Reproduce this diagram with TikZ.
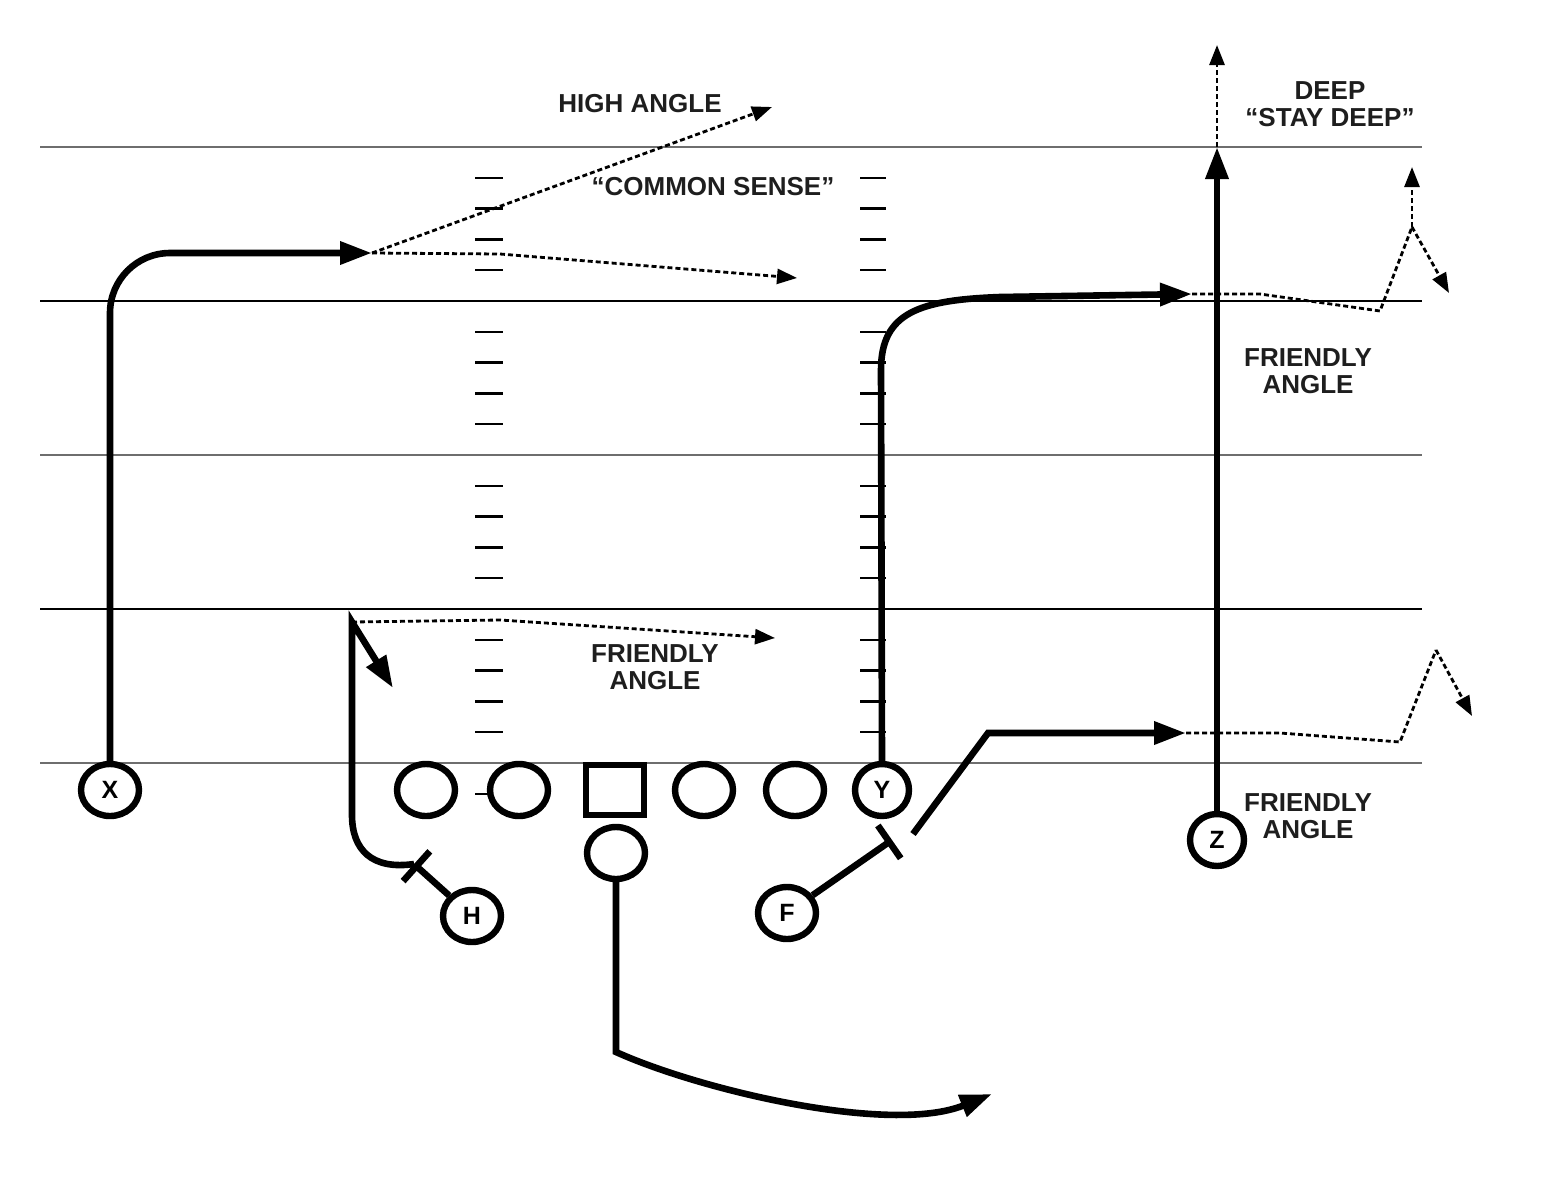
\documentclass[tikz,border=0pt]{standalone}
\usepackage{fontspec}
\setmainfont{Liberation Sans}
\usepackage{tikz}
\usetikzlibrary{arrows.meta,shapes.geometric}
\usepackage{xcolor}
\definecolor{fieldgray}{RGB}{110,110,110}
\definecolor{inkdark}{RGB}{30,30,30}

\tikzset{
  player/.style={draw,ellipse,line width=3.2pt,fill=white,inner sep=0pt,
    minimum width=29pt,minimum height=26pt,font=\bfseries\fontsize{12.5}{13}\selectfont},
  centerbox/.style={draw,rectangle,line width=3.2pt,fill=white,inner sep=0pt,
    minimum width=29pt,minimum height=25pt},
  route/.style={line width=3.3pt,-{Triangle[length=16pt,width=11pt]}},
  block/.style={line width=3.3pt,-{Bar[width=20pt]}},
  option/.style={line width=1.4pt,dash pattern=on 2.5pt off 1.5pt},
  optarrow/.style={option,-{Triangle[length=10pt,width=7.5pt]}},
  hashmark/.style={line width=1.2pt},
  lbl/.style={font=\bfseries\fontsize{13}{13.8}\selectfont,align=center,text=inkdark},
}

\begin{document}
\begin{tikzpicture}[x=0.5pt,y=-0.5pt]
  \useasboundingbox (0,0) rectangle (1542,1200);
  % yard lines
  \foreach \y/\c in {147/fieldgray,301/black,455/fieldgray,609/black,763/fieldgray}
    \draw[line width=1.1pt,\c] (40,\y) -- (1422,\y);
  % hash marks
  \foreach \k in {1,...,21}{
    \pgfmathtruncatemacro\r{mod(\k,5)}
    \ifnum\r>0
      \draw[hashmark] (475,147+30.8*\k) -- (503,147+30.8*\k);
      \draw[hashmark] (860,147+30.8*\k) -- (886,147+30.8*\k);
    \fi}

  % players
  \foreach \n/\x in {LT/426,LG/519,RG/704,RT/795}
    \node[player] (\n) at (\x,790) {};
  \node[centerbox] (C) at (615,790) {};
  \node[player] (QB) at (616,853) {};
  \node[player] (X) at (110,790) {X};
  \node[player,minimum width=27pt] (Y) at (882,790) {Y};
  \node[player] (H) at (472,916) {H};
  \node[player] (F) at (787,913) {F};
  \node[player,minimum width=27pt] (Z) at (1217,840) {Z};

  % X
  \coordinate (xbrk) at (372,253);
  \draw[route,rounded corners=30pt] (X.north) |- (xbrk);
  \draw[optarrow] (xbrk) -- (772,107);
  \draw[optarrow] (xbrk) -- (500,254) -- (797,278);

  % H
  \coordinate (hblk) at (414,864);
  \coordinate (hcut) at (352,622);
  \draw[block] (H) -- (hblk);
  \draw[route] (hblk) .. controls (372,870) and (352,850) .. (352,815) -- (hcut) -- (393,688);
  \draw[optarrow] (hcut) -- (500,620) -- (775,638);

  % QB
  \draw[route] (QB.south) -- (616,1052) .. controls (700,1090) and (890,1135) .. (992,1094);

  % Y
  \coordinate (yend) at (1192,294);
  \draw[route] (Y.north) -- (881,370) .. controls (881,312) and (920,300) .. (1000,297) -- (yend);
  \draw[option] (yend) -- (1260,294) -- (1380,311) -- (1412,227) coordinate (ysplit);
  \draw[optarrow] (ysplit) -- (1412,167);
  \draw[optarrow] (ysplit) -- (1449,293);

  % F
  \coordinate (fblk) at (892,840);
  \coordinate (frel) at (913,834);
  \coordinate (fend) at (1186,733);
  \draw[block] (F) -- (fblk);
  \draw[route] (frel) -- (988,733) -- (fend);
  \draw[option] (fend) -- (1280,733) -- (1400,742) -- (1436,650) coordinate (fsplit);
  \draw[optarrow] (fsplit) -- (1472,716);

  % Z
  \coordinate (zdeep) at (1217,147);
  \draw[route] (Z.north) -- (zdeep);
  \draw[optarrow] (zdeep) -- (1217,45);

  % labels
  \node[lbl] (high) at (640,104) {HIGH ANGLE};
  \node[lbl] (sense) at (713,187) {“COMMON SENSE”};
  \node[lbl] (deep) at (1330,104) {DEEP\\“STAY DEEP”};
  \node[lbl] (fa1) at (1308,371) {FRIENDLY\\ANGLE};
  \node[lbl] (fa2) at (655,667) {FRIENDLY\\ANGLE};
  \node[lbl] (fa3) at (1308,816) {FRIENDLY\\ANGLE};
\end{tikzpicture}
\end{document}
